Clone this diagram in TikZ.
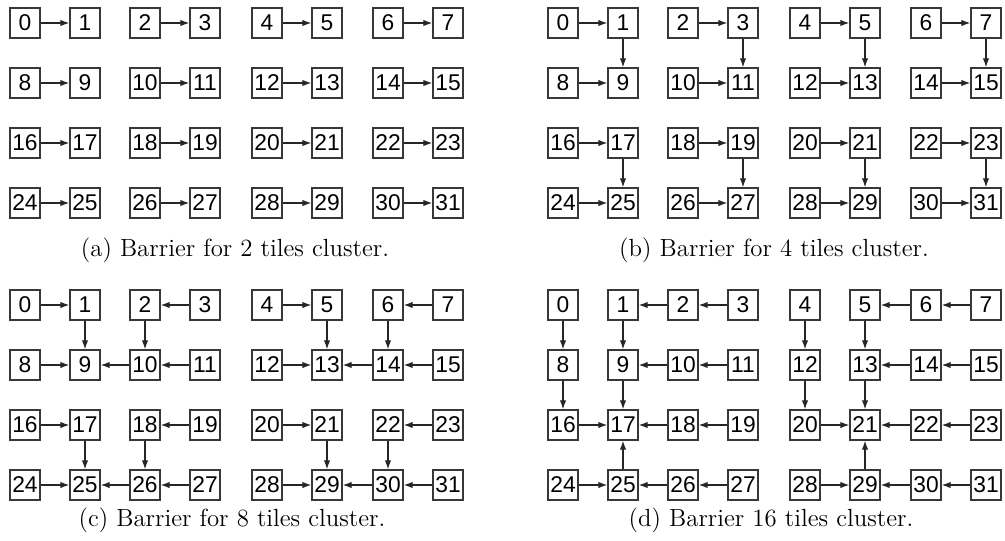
\documentclass[tikz,border=0pt]{standalone}
\usepackage{fontspec}
\newfontfamily\tilefont{Liberation Sans}
\usetikzlibrary{arrows.meta}
\newcommand\mkpanel[3]{%
  \foreach \r in {0,...,3}{%
    \foreach \c [count=\ci from 0] in {25,85,145,205,267,327,388,448}{%
      \pgfmathtruncatemacro\n{\r*8+\ci}%
      \node[tile] (#1\n) at (\c+#2, 23+60*\r+#3) {\n};
    }%
  }%
}
\begin{document}
\begin{tikzpicture}[x=0.5pt,y=-0.5pt,
  tile/.style={draw=black!78, line width=0.65pt, minimum size=15pt, inner sep=0pt,
    font=\tilefont\fontsize{11.4}{13}\selectfont},
  arr/.style={-{Latex[length=4.5pt,width=3.2pt]}, line width=0.6pt, draw=black!85},
  captext/.style={font=\fontsize{12.4}{14}\selectfont}]
\useasboundingbox (0,0) rectangle (1005,540);
\mkpanel{a}{0}{0}
\mkpanel{b}{538}{0}
\mkpanel{c}{0}{282}
\mkpanel{d}{538}{282}
% (a)
\foreach \s/\t in {0/1,2/3,4/5,6/7,8/9,10/11,12/13,14/15,16/17,18/19,20/21,22/23,24/25,26/27,28/29,30/31}
  \draw[arr] (a\s) -- (a\t);
% (b)
\foreach \s/\t in {0/1,2/3,4/5,6/7,8/9,10/11,12/13,14/15,16/17,18/19,20/21,22/23,24/25,26/27,28/29,30/31,
  1/9,3/11,5/13,7/15,17/25,19/27,21/29,23/31}
  \draw[arr] (b\s) -- (b\t);
% (c)
\foreach \s/\t in {0/1,3/2,1/9,2/10,8/9,10/9,11/10,4/5,7/6,5/13,6/14,12/13,14/13,15/14,
  16/17,19/18,17/25,18/26,24/25,26/25,27/26,20/21,23/22,21/29,22/30,28/29,30/29,31/30}
  \draw[arr] (c\s) -- (c\t);
% (d)
\foreach \s/\t in {0/8,3/2,2/1,1/9,11/10,10/9,8/16,9/17,19/18,18/17,16/17,24/25,25/17,27/26,26/25,
  4/12,7/6,6/5,5/13,15/14,14/13,12/20,13/21,23/22,22/21,20/21,28/29,29/21,31/30,30/29}
  \draw[arr] (d\s) -- (d\t);
\node[captext] (capa) at (235,250) {(a) Barrier for 2 tiles cluster.};
\node[captext] (capb) at (774,250) {(b) Barrier for 4 tiles cluster.};
\node[captext] (capc) at (232,520) {(c) Barrier for 8 tiles cluster.};
\node[captext] (capd) at (771,520) {(d) Barrier 16 tiles cluster.};
\end{tikzpicture}
\end{document}
